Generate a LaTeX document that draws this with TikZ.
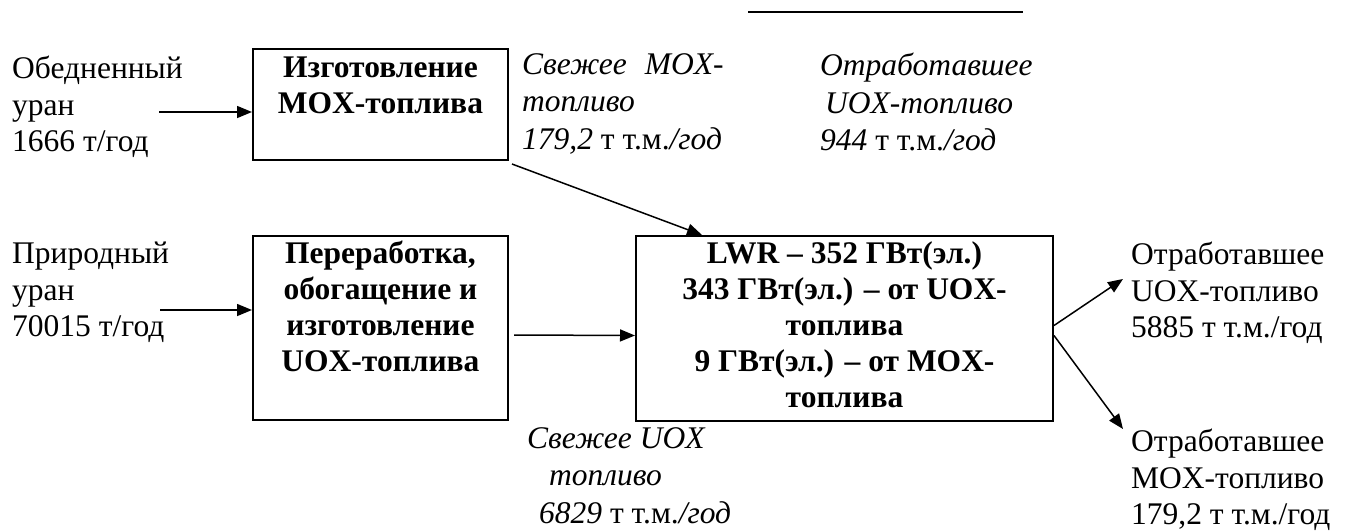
\documentclass[tikz,border=0pt]{standalone}
\usepackage{fontspec}
\setmainfont{Liberation Serif}
\usetikzlibrary{positioning,arrows.meta}

\tikzset{
  txt/.style={font=\fontsize{31.5}{36.5}\selectfont, align=left, inner sep=0pt, anchor=north west},
  itxt/.style={txt, font=\fontsize{31.5}{37.5}\selectfont\itshape},
  box/.style={draw, line width=2pt, inner sep=0pt},
  boxtxt/.style={font=\fontsize{31.5}{36}\selectfont\bfseries, align=center, inner sep=0pt},
  arr/.style={line width=1.5pt, -{Triangle[length=15pt,width=12pt]}}
}

\begin{document}
\begin{tikzpicture}[x = 1pt, y = -1pt]
  \useasboundingbox (0,0) rectangle (1351,530);

  % Boxes
  \node[box, minimum width=255pt, minimum height=111pt] (mox) at (380.5,104.5) {};
  \node[box, minimum width=255pt, minimum height=184pt] (pere) at (380.5,328) {};
  \node[box, minimum width=417pt, minimum height=185pt] (lwr) at (844.5,328.5) {};

  \node[boxtxt, below=9pt of mox.north] (moxtxt) {Изготовление\\MOX-топлива};
  \node[boxtxt, below=6pt of pere.north] (peretxt) {Переработка,\\обогащение и\\изготовление\\UOX-топлива};
  \node[boxtxt, below=6pt of lwr.north] (lwrtxt) {LWR – 352 ГВт(эл.)\\343 ГВт(эл.) – от UOX-\\топлива\\9 ГВт(эл.) – от MOX-\\топлива};

  % Labels
  \node[txt] (obed) at (12,56) {Обедненный\\уран\\1666 т/год};
  \node[txt] (prir) at (12,242) {Природный\\уран\\70015 т/год};
  \node[itxt] (fmox) at (522,53) {Свежее\hspace{18pt}MOX-\\топливо\\179,2 {\upshape т т.м.}/год};
  \node[itxt] (spuoxt) at (820,53) {Отработавшее\\\hspace*{5pt}UOX-топливо\\944 {\upshape т т.м.}/год};
  \node[itxt] (fuox) at (527,427) {Свежее UOX\\\hspace*{22pt}топливо\\\hspace*{12pt}6829 {\upshape т т.м.}/год};
  \node[txt] (spuox) at (1131,242) {Отработавшее\\UOX-топливо\\5885 т т.м./год};
  \node[txt] (spmox) at (1131,429) {Отработавшее\\MOX-топливо\\179,2 т т.м./год};

  % Arrows
  \coordinate (obedout) at (159,112);
  \coordinate (prirout) at (160,310);
  \coordinate (uoxtip) at (1123,279);
  \coordinate (moxtip) at (1123,429);
  \draw[arr] (obedout) -- (obedout -| mox.west);
  \draw[arr] (prirout) -- (prirout -| pere.west);
  \draw[arr] ([shift={(3pt,-3pt)}]mox.south east) -- ([xshift=67pt]lwr.north west);
  \draw[arr] ([shift={(5pt,-7pt)}]pere.east) -- ([yshift=-7pt]lwr.west);
  \draw[arr] ([yshift=3pt]lwr.east) -- (uoxtip);
  \draw[arr] ([yshift=-7pt]lwr.east) -- (moxtip);

  % Rule at the top
  \draw[line width=1.5pt] (748,12) -- (1023,12);
\end{tikzpicture}
\end{document}
